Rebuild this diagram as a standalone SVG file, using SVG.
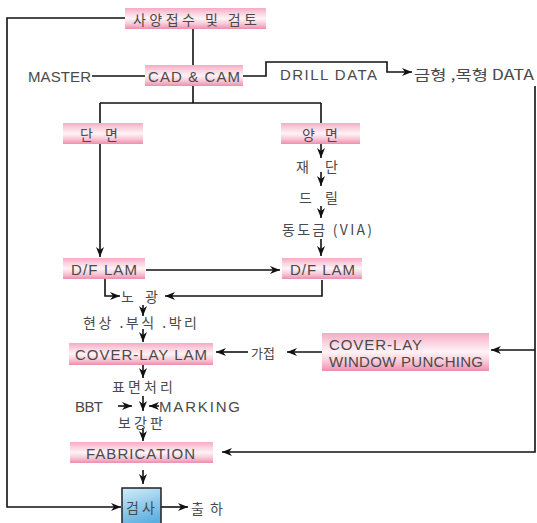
<svg xmlns="http://www.w3.org/2000/svg" width="537" height="523" viewBox="0 0 537 523">
<defs>
<linearGradient id="pink" x1="0" y1="0" x2="0" y2="1">
<stop offset="0" stop-color="#f6aac3"/>
<stop offset="0.25" stop-color="#fad2df"/>
<stop offset="0.5" stop-color="#fff3f6"/>
<stop offset="0.75" stop-color="#f9c9d8"/>
<stop offset="1" stop-color="#ee8dad"/>
</linearGradient>
<linearGradient id="blue" x1="0" y1="0" x2="0.3" y2="1">
<stop offset="0" stop-color="#d3ecf9"/>
<stop offset="1" stop-color="#5aaee0"/>
</linearGradient>
<marker id="ah" markerUnits="userSpaceOnUse" markerWidth="11" markerHeight="9" refX="10" refY="4.5" orient="auto">
<path d="M0,0.5 L10,4.5 L0,8.5 L3,4.5 Z" fill="#111"/>
</marker>
</defs>
<style>
.box{fill:url(#pink);stroke:none}
.t{font-family:"Liberation Sans","Noto Sans CJK KR",sans-serif;font-size:15px;fill:#4a4a4a;dominant-baseline:central}
.k{font-family:"Noto Sans CJK KR","Liberation Sans",sans-serif;font-size:14px;fill:#4a4a4a;dominant-baseline:central}
.ln{fill:none;stroke:#111;stroke-width:1.6}
.ar{fill:none;stroke:#111;stroke-width:1.6;marker-end:url(#ah)}
</style>
<rect width="537" height="523" fill="#fff"/>
<g id="connectors">
<path class="ar" d="M125,18 H7 V507 H121"/>
<path class="ln" d="M193,29 V65"/>
<path class="ln" d="M92,76 H145"/>
<path class="ar" d="M243,76 H266 V62 H387 V72 H412"/>
<path class="ar" d="M535,86 V452 H222"/>
<path class="ar" d="M535,350 H491"/>
<path class="ln" d="M193,86 V103 M100,103 H321 M100,103 V123 M321,103 V123"/>
<path class="ar" d="M100,144 V257"/>
<path class="ar" d="M321,144 V158"/>
<path class="ar" d="M321,172 V186"/>
<path class="ar" d="M321,206 V218"/>
<path class="ar" d="M321,239 V256"/>
<path class="ar" d="M146,270 H280"/>
<path class="ar" d="M105,279 V296 H120"/>
<path class="ar" d="M322,280 V296 H165"/>
<path class="ar" d="M143,305 V316"/>
<path class="ar" d="M143,329 V342"/>
<path class="ar" d="M248,352 H216"/>
<path class="ar" d="M322,352 H287"/>
<path class="ar" d="M143,365 V378"/>
<path class="ar" d="M143,396 V411"/>
<path class="ar" d="M118,406 H132"/>
<path class="ar" d="M159,406 H149"/>
<path class="ar" d="M143,428 V441"/>
<path class="ar" d="M143,470 V484"/>
<path class="ar" d="M161,507 H188"/>
</g>
<g id="n-review"><rect class="box" x="125" y="8" width="141" height="21"/><text class="k" x="133" y="19" textLength="124" lengthAdjust="spacing">사양접수 및 검토</text></g>
<g id="n-cadcam"><rect class="box" x="145" y="65" width="98" height="21"/><text class="t" x="148" y="76" textLength="92" lengthAdjust="spacing">CAD &amp; CAM</text></g>
<g id="n-master"><text class="t" x="28" y="76" textLength="63" lengthAdjust="spacing">MASTER</text></g>
<g id="n-drill"><text class="t" x="280" y="74" textLength="97" lengthAdjust="spacing">DRILL DATA</text></g>
<g id="n-mold"><text class="k" x="414" y="74" textLength="120" lengthAdjust="spacingAndGlyphs">금형 ,목형 DATA</text></g>
<g id="n-single"><rect class="box" x="63" y="123" width="80" height="21"/><text class="k" x="80" y="134" textLength="38" lengthAdjust="spacing">단 면</text></g>
<g id="n-double"><rect class="box" x="281" y="123" width="79" height="21"/><text class="k" x="302" y="134" textLength="36" lengthAdjust="spacing">양 면</text></g>
<g id="n-cut"><text class="k" x="296" y="166" textLength="42" lengthAdjust="spacing">재 단</text></g>
<g id="n-drl"><text class="k" x="299" y="197" textLength="39" lengthAdjust="spacing">드 릴</text></g>
<g id="n-via"><text class="k" x="282" y="229" textLength="90" lengthAdjust="spacing">동도금 (VIA)</text></g>
<g id="n-dfl"><rect class="box" x="63" y="258" width="82" height="21"/><text class="t" x="71" y="269" textLength="66" lengthAdjust="spacing">D/F LAM</text></g>
<g id="n-dfr"><rect class="box" x="282" y="258" width="80" height="21"/><text class="t" x="290" y="269" textLength="65" lengthAdjust="spacing">D/F LAM</text></g>
<g id="n-expose"><text class="k" x="121" y="296" textLength="37" lengthAdjust="spacing">노 광</text></g>
<g id="n-develop"><text class="k" x="83" y="322" textLength="114" lengthAdjust="spacing">현상 .부식 .박리</text></g>
<g id="n-cll"><rect class="box" x="69" y="343" width="144" height="22"/><text class="t" x="75" y="354" textLength="132" lengthAdjust="spacing">COVER-LAY LAM</text></g>
<g id="n-tack"><text class="k" x="251" y="352" style="font-size:13px">가접</text></g>
<g id="n-clwp"><rect class="box" x="322" y="333" width="167" height="38"/><text class="t" x="329" y="344" textLength="93" lengthAdjust="spacing">COVER-LAY</text><text class="t" x="329" y="361" textLength="154" lengthAdjust="spacing">WINDOW PUNCHING</text></g>
<g id="n-surface"><text class="k" x="112" y="386" textLength="61" lengthAdjust="spacing">표면처리</text></g>
<g id="n-bbt"><text class="t" x="75" y="406" textLength="28" lengthAdjust="spacing">BBT</text></g>
<g id="n-marking"><text class="t" x="159" y="406" textLength="81" lengthAdjust="spacing">MARKING</text></g>
<g id="n-stiff"><text class="k" x="118" y="422" textLength="45" lengthAdjust="spacing">보강판</text></g>
<g id="n-fab"><rect class="box" x="70" y="442" width="143" height="21"/><text class="t" x="86" y="453" textLength="109" lengthAdjust="spacing">FABRICATION</text></g>
<g id="n-insp"><rect x="122" y="488" width="39" height="40" fill="url(#blue)" stroke="#222" stroke-width="1.5"/><text class="k" x="126" y="507" textLength="29" lengthAdjust="spacing">검사</text></g>
<g id="n-ship"><text class="k" x="191" y="508" textLength="32" lengthAdjust="spacing">출하</text></g>
</svg>
